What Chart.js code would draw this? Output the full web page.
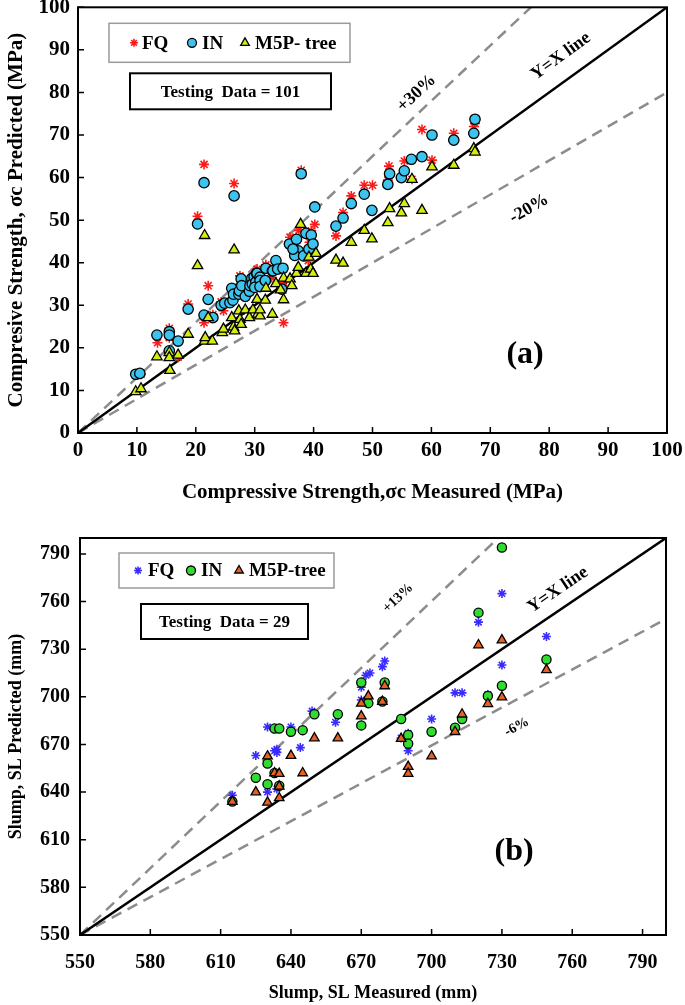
<!DOCTYPE html>
<html>
<head>
<meta charset="utf-8">
<script src="https://cdn.jsdelivr.net/npm/chart.js@4.4.1/dist/chart.umd.min.js"></script>
<style>
  body { margin: 0; background: #fff; }
  .box { position: absolute; left: 0; width: 685px; }
</style>
</head>
<body>
<div class="box" style="top:0;height:505px"><canvas id="chartA"></canvas></div>
<div class="box" style="top:505px;height:500px"><canvas id="chartB"></canvas></div>
<script>
// ---- panel (a): compressive strength (MPa) ----
const ticksA = [0, 10, 20, 30, 40, 50, 60, 70, 80, 90, 100];

const fqAx = [10.1,10.7,13.5,15.5,15.5,17.0,18.7,20.3,21.4,22.1,21.4,22.9,24.7,24.3,26.5,27.5,28.1,27.3,29.6,30.4,31.9,32.9,33.9,34.9,34.9,36.0,36.8,37.5,39.3,39.6,40.2,39.1,37.9,43.8,45.0,46.4,48.6,50.0,52.6,52.8,55.4,56.7,58.4,60.1,63.8,67.2,67.4];
const fqAy = [13.6,13.8,21.2,22.4,24.6,17.8,30.3,50.9,63.1,34.6,25.9,27.8,28.7,30.8,58.6,36.9,33.8,33.5,36.0,38.5,39.5,36.5,39.5,35.4,25.9,46.0,42.5,47.6,44.8,47.5,49.0,40.5,61.7,46.3,51.8,55.7,58.2,58.2,59.4,62.7,63.9,59.6,71.3,64.1,70.4,72.0,72.7];

const inAx = [9.8,10.5,13.4,15.5,15.5,15.5,17.0,18.7,20.3,21.4,22.1,21.4,22.9,24.3,24.9,25.8,26.5,26.1,26.3,26.4,27.3,27.7,27.4,27.8,28.4,29.1,29.2,29.5,29.6,29.9,30.2,30.3,30.4,30.9,30.9,31.8,31.9,33.0,33.1,33.6,33.9,34.8,34.6,30.0,30.9,31.8,35.9,37.1,38.7,39.6,37.4,36.8,36.5,38.3,39.2,39.9,37.9,40.2,43.8,45.0,46.4,48.6,49.9,52.6,52.9,54.9,55.4,56.6,58.4,60.1,63.8,67.2,67.4];
const inAy = [13.8,14.0,23.0,23.8,23.0,19.3,21.6,29.1,49.1,58.8,31.4,27.7,27.1,30.0,30.5,30.6,55.7,34.0,31.2,32.6,32.6,36.2,33.4,34.6,32.1,33.3,34.6,36.3,35.0,36.7,35.5,37.5,37.5,36.6,35.8,35.8,38.7,38.1,38.1,40.5,38.5,38.7,33.8,34.2,34.4,35.8,44.4,45.5,46.9,46.5,42.8,41.7,43.2,41.6,43.2,44.4,60.9,53.1,48.6,50.5,53.9,56.1,52.3,58.4,60.9,60.0,61.6,64.3,64.9,70.0,68.8,70.4,73.7];

const m5Ax = [9.8,10.7,13.4,15.5,15.5,15.6,17.0,18.7,20.3,21.5,21.5,21.6,22.8,22.1,24.5,24.7,26.1,26.4,26.6,26.5,27.5,27.7,27.3,28.4,29.1,29.7,30.4,30.5,30.9,30.9,31.8,31.9,33.0,33.6,34.4,34.9,34.9,36.0,36.3,37.1,37.4,38.7,39.5,39.9,39.2,40.4,37.8,43.8,45.0,46.4,48.6,49.9,52.6,52.9,54.9,55.4,56.7,58.4,60.1,63.8,67.2,67.4];
const m5Ay = [9.7,10.4,17.9,18.9,17.7,14.7,18.3,23.2,39.3,46.4,21.6,22.4,21.6,27.1,23.6,24.4,27.1,24.9,24.0,43.0,26.7,25.5,28.7,28.9,27.1,28.9,31.4,27.9,27.5,28.9,31.2,34.0,27.9,35.1,33.6,31.3,36.4,36.2,34.6,37.5,38.9,37.5,38.5,37.5,41.3,42.2,49.0,40.6,39.9,44.8,47.6,45.6,49.4,52.7,51.7,53.9,59.6,52.3,62.5,62.9,66.8,66.0];

// reference lines [x0, y0, x1, y1]
const lineYXa = [0, 0, 100, 100];
const linePlus30 = [0, 0, 76.9, 100];
const lineMinus20 = [0, 0, 100, 80];

// ---- panel (b): slump (mm) ----
const ticksB = [550, 580, 610, 640, 670, 700, 730, 760, 790];

const fqBx = [615,625,630,630,633,634,634,634,640,644,649,659,670,670,672,673.7,679,680,687,690,690,700,710,713,720,724,730,730,749];
const fqBy = [638,663,681,640,666,667,665,642,681,668,691,684,698,706,713.5,715,719,722.5,674,677,666,686,702.5,702.5,747,701.5,765,720,738];

const inBx = [615,625,630,630,633,633,635,635,640,645,650,660,670,670,673,679,680,687,690,690,700,710,713,720,724,730,730,749];
const inBy = [634,649,658,645,680,652,680,644,678,679,689,689,709,682,696,697,709,686,676,670.5,678,680.5,686,753,700.5,794,707,723.5];

const m5Bx = [615,625,630,630,633,635,635,635,640,645,650,660,670,670,673,679,680,687,690,690,700,710,713,720,724,730,730,749];
const m5By = [634,640,662.6,633.5,652,651.6,643.6,636.3,663,652,674,674,695.8,687.8,700.4,697,706.8,673.7,656,651.6,662.6,678,689,732.6,695.6,735.7,699.8,717];

const lineYXb = [550, 550, 800, 800];
const linePlus13 = [550, 550, 728.4, 800];
const lineMinus6 = [550, 550, 800, 749];

const SERIF = '"Liberation Serif", "Times New Roman", serif';

function pts(xs, ys) { return xs.map((x, i) => ({ x: x, y: ys[i] })); }
function seg(l) { return [{ x: l[0], y: l[1] }, { x: l[2], y: l[3] }]; }

function lineSet(l, color, dash) {
  return {
    type: 'line', data: seg(l), borderColor: color, borderWidth: 2.5,
    borderDash: dash, pointRadius: 0, showLine: true, fill: false, order: 5
  };
}

function markerSet(label, xs, ys, style, fill, border, r, bw, order) {
  return {
    label: label, data: pts(xs, ys), pointStyle: style,
    pointBackgroundColor: fill, pointBorderColor: border,
    backgroundColor: fill, borderColor: border,
    pointRadius: r, pointBorderWidth: bw, showLine: false, order: order
  };
}

// frame, inward ticks, legend box, text notes
const decor = {
  id: 'decor',
  afterDatasetsDraw(chart, args, opts) {
    const ctx = chart.ctx, a = chart.chartArea;
    const x = chart.scales.x, y = chart.scales.y;
    ctx.save();
    ctx.strokeStyle = '#000';
    ctx.lineWidth = 2;
    ctx.strokeRect(a.left, a.top, a.right - a.left, a.bottom - a.top);

    ctx.lineWidth = 1.5;
    ctx.beginPath();
    x.ticks.forEach(t => {
      const px = x.getPixelForValue(t.value);
      ctx.moveTo(px, a.bottom); ctx.lineTo(px, a.bottom - 6);
    });
    y.ticks.forEach(t => {
      const py = y.getPixelForValue(t.value);
      ctx.moveTo(a.left, py); ctx.lineTo(a.left + 6, py);
    });
    ctx.stroke();

    ctx.fillStyle = '#000';
    ctx.textAlign = 'center';
    ctx.textBaseline = 'middle';
    opts.labels.forEach(l => {
      const px = x.getPixelForValue(l.x), py = y.getPixelForValue(l.y);
      let ang = 0;
      if (l.along) {
        const s = l.along;
        ang = Math.atan2(y.getPixelForValue(s[3]) - y.getPixelForValue(s[1]),
                         x.getPixelForValue(s[2]) - x.getPixelForValue(s[0]));
      }
      ctx.save();
      ctx.translate(px, py);
      ctx.rotate(ang);
      ctx.font = 'bold ' + l.size + 'px ' + SERIF;
      ctx.fillText(l.text, 0, 0);
      ctx.restore();
    });

    // legend
    const lg = opts.legend;
    ctx.strokeStyle = '#9a9a9a';
    ctx.lineWidth = 1.5;
    ctx.strokeRect(a.left + lg.left, a.top + lg.top, lg.width, lg.height);
    const cy = a.top + lg.top + lg.height / 2;
    lg.items.forEach(it => {
      const ds = chart.data.datasets[it.index];
      ctx.save();
      ctx.fillStyle = ds.pointBackgroundColor;
      ctx.strokeStyle = ds.pointBorderColor;
      ctx.lineWidth = ds.pointBorderWidth;
      Chart.helpers.drawPoint(ctx, { pointStyle: ds.pointStyle, radius: it.r, rotation: 0, borderWidth: ds.pointBorderWidth }, a.left + it.mx, cy);
      ctx.restore();
      ctx.fillStyle = '#000';
      ctx.textAlign = 'left';
      ctx.font = 'bold ' + lg.size + 'px ' + SERIF;
      ctx.fillText(ds.label, a.left + it.tx, cy + 1);
    });

    // testing data box
    const ib = opts.info;
    ctx.strokeStyle = '#000';
    ctx.lineWidth = 2;
    ctx.strokeRect(a.left + ib.left, a.top + ib.top, ib.width, ib.height);
    ctx.textAlign = 'center';
    ctx.font = 'bold ' + ib.size + 'px ' + SERIF;
    ctx.fillText(ib.text, a.left + ib.left + ib.width / 2, a.top + ib.top + ib.height / 2 + 1);
    ctx.restore();
  }
};

function axis(min, max, tickVals, tickSize, title, titleSize, fit, pad, titlePad) {
  return {
    type: 'linear', min: min, max: max,
    ticks: { color: '#000', padding: pad, maxRotation: 0, autoSkip: false,
             font: { family: SERIF, size: tickSize, weight: 'bold' } },
    afterBuildTicks: s => { s.ticks = tickVals.map(v => ({ value: v })); },
    grid: { display: false, drawTicks: false },
    border: { display: false },
    title: { display: true, text: title, color: '#000', padding: titlePad,
             font: { family: SERIF, size: titleSize, weight: 'bold' } },
    afterFit: s => {
      fit(s);
      s.paddingTop = 0; s.paddingBottom = 0; s.paddingLeft = 0; s.paddingRight = 0;
    }
  };
}

new Chart(document.getElementById('chartA'), {
  type: 'scatter',
  data: {
    datasets: [
      markerSet('FQ', fqAx, fqAy, 'star', '#ff1a1a', '#ff1a1a', 5, 1.6, 3),
      markerSet('IN', inAx, inAy, 'circle', '#3cc3ee', '#000', 5.2, 1.3, 2),
      markerSet('M5P- tree', m5Ax, m5Ay, 'triangle', '#d4ec0e', '#000', 6, 1.3, 1),
      lineSet(lineYXa, '#000', []),
      lineSet(linePlus30, '#8c8c8c', [11, 7]),
      lineSet(lineMinus20, '#8c8c8c', [11, 7])
    ]
  },
  options: {
    responsive: true, maintainAspectRatio: false, animation: false,
    layout: { padding: { left: 0, top: 7, right: 18, bottom: 0 } },
    scales: {
      x: axis(0, 100, ticksA, 21, 'Compressive Strength,σc Measured (MPa)', 21, s => { s.height = 72; }, 5, { bottom: 0 }),
      y: axis(0, 100, ticksA, 21, 'Compresive Strength, σc Predicted (MPa)', 21, s => { s.width = 78; }, 8, { top: 4 })
    },
    plugins: {
      legend: { display: false },
      tooltip: { enabled: false },
      decor: {
        labels: [
          { text: 'Y=X line', x: 82, y: 88.5, size: 18, along: lineYXa },
          { text: '+30%', x: 57.5, y: 79.8, size: 18, along: linePlus30 },
          { text: '-20%', x: 76.6, y: 52.7, size: 18, along: lineMinus20 },
          { text: '(a)', x: 75.9, y: 18.5, size: 32 }
        ],
        legend: { left: 31, top: 16, width: 241, height: 39, size: 19,
                  items: [ { index: 0, mx: 56, tx: 64, r: 4 },
                           { index: 1, mx: 114, tx: 124, r: 4.5 },
                           { index: 2, mx: 167, tx: 177, r: 5 } ] },
        info: { left: 52, top: 66, width: 201, height: 36, size: 17, text: 'Testing  Data = 101' }
      }
    }
  },
  plugins: [decor]
});

new Chart(document.getElementById('chartB'), {
  type: 'scatter',
  data: {
    datasets: [
      markerSet('FQ', fqBx, fqBy, 'star', '#3a2cff', '#3a2cff', 4.5, 1.6, 3),
      markerSet('IN', inBx, inBy, 'circle', '#2fdc2f', '#000', 4.6, 1.3, 2),
      markerSet('M5P-tree', m5Bx, m5By, 'triangle', '#ea5f22', '#000', 5.5, 1.3, 1),
      lineSet(lineYXb, '#000', []),
      lineSet(linePlus13, '#8c8c8c', [11, 7]),
      lineSet(lineMinus6, '#8c8c8c', [11, 7])
    ]
  },
  options: {
    responsive: true, maintainAspectRatio: false, animation: false,
    layout: { padding: { left: 0, top: 33, right: 19, bottom: 0 } },
    scales: {
      x: axis(550, 800, ticksB, 20, 'Slump, SL Measured (mm)', 18, s => { s.height = 70; }, 16, { bottom: 1 }),
      y: axis(550, 800, ticksB, 20, 'Slump, SL Predicted (mm)', 18, s => { s.width = 80; }, 10, { top: 6 })
    },
    plugins: {
      legend: { display: false },
      tooltip: { enabled: false },
      decor: {
        labels: [
          { text: 'Y=X line', x: 753.9, y: 767.3, size: 18, along: lineYXb },
          { text: '+13%', x: 685.7, y: 762.2, size: 14, along: linePlus13 },
          { text: '-6%', x: 736.4, y: 681, size: 14, along: lineMinus6 },
          { text: '(b)', x: 735.2, y: 602.3, size: 32 }
        ],
        legend: { left: 39, top: 15, width: 215, height: 35, size: 19,
                  items: [ { index: 0, mx: 58, tx: 68, r: 4 },
                           { index: 1, mx: 111, tx: 121, r: 4.5 },
                           { index: 2, mx: 159, tx: 169, r: 5 } ] },
        info: { left: 61, top: 66, width: 167, height: 35, size: 17, text: 'Testing  Data = 29' }
      }
    }
  },
  plugins: [decor]
});
</script>
</body>
</html>
